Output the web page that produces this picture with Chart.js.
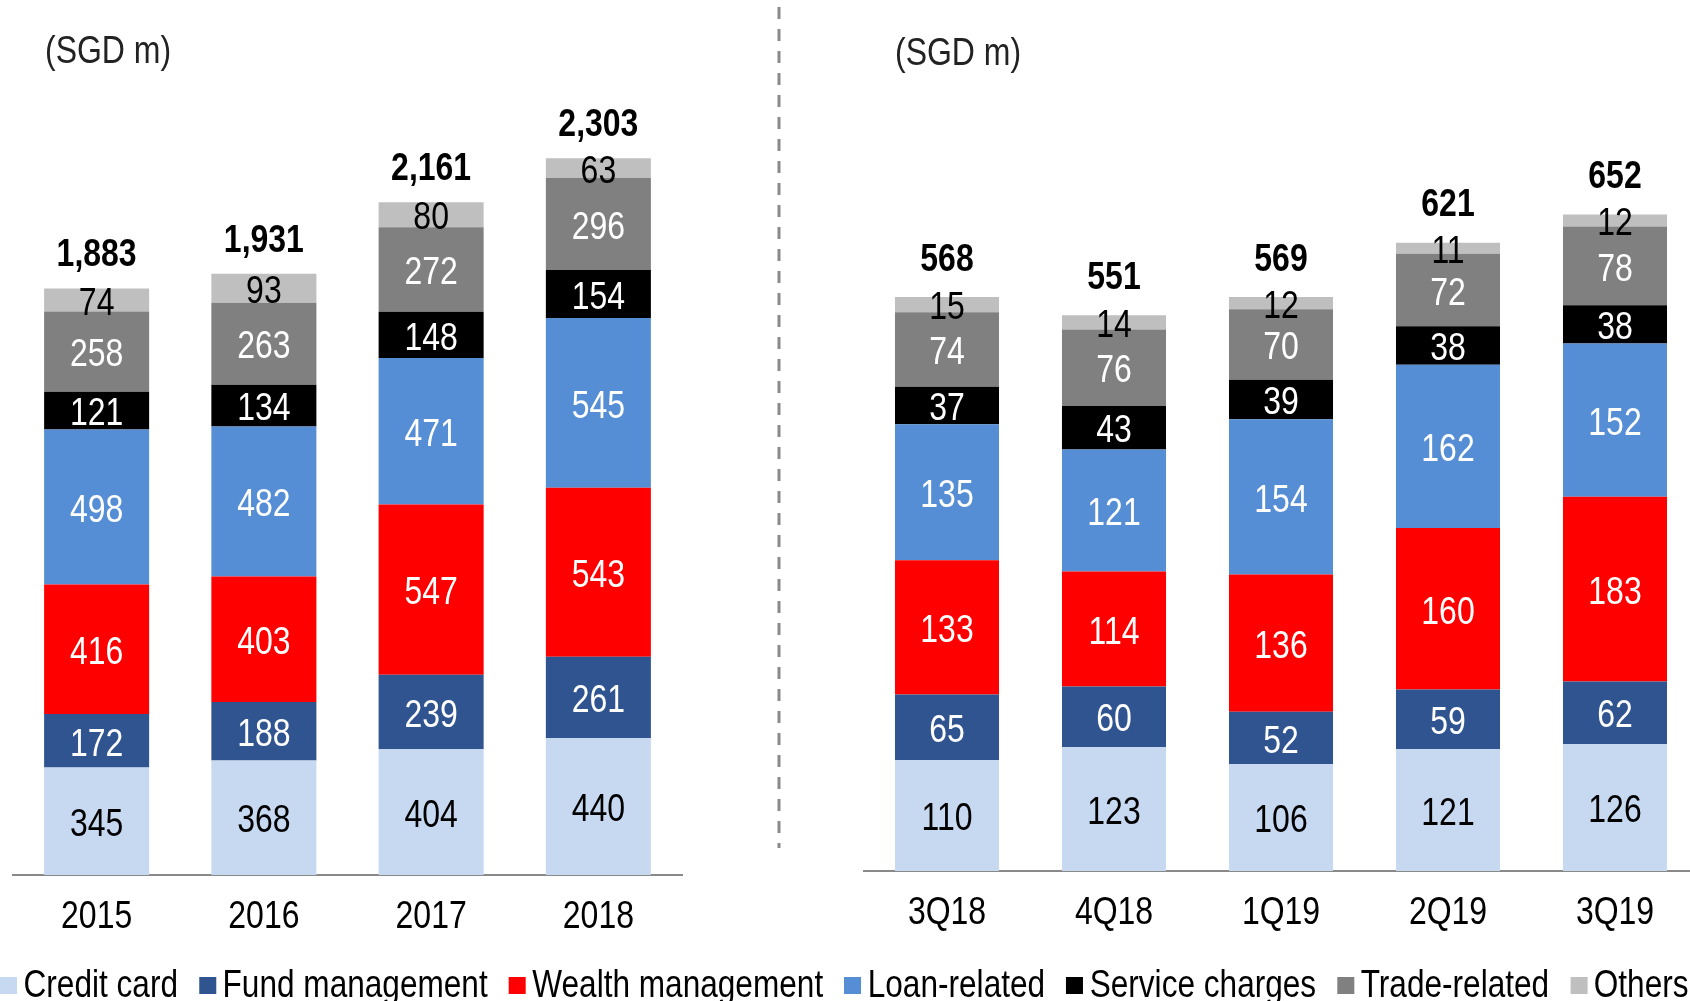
<!DOCTYPE html>
<html>
<head>
<meta charset="utf-8">
<script src="https://cdn.jsdelivr.net/npm/chart.js@4.4.1/dist/chart.umd.min.js"></script>
<style>
  html, body { margin: 0; padding: 0; background: #fff; overflow: hidden; }
  #wrap { position: relative; width: 1690px; height: 1001px; overflow: hidden; }
  canvas { position: absolute; top: 0; }
  #yearChart { left: 0; }
  #quarterChart { left: 780px; }
  .unit { position: absolute; font: 39px "Liberation Sans", Arial, sans-serif; color: #222; line-height: 1;
          transform: scaleX(0.82); transform-origin: left top; white-space: nowrap; }
  #divider { position: absolute; left: 0; top: 0; }
  #legend { position: absolute; left: 0; top: 960px; display: flex; align-items: center; height: 48px;
            font: 39px "Liberation Sans", Arial, sans-serif; color: #000; white-space: nowrap;
            transform: scaleX(0.81); transform-origin: left top; }
  #legend .item { display: flex; align-items: center; margin-right: 26px; }
  #legend .box { width: 21px; height: 17px; margin-right: 8px; margin-top: 2px; }
</style>
</head>
<body>
<div id="wrap">
  <canvas id="yearChart" width="720" height="960"></canvas>
  <canvas id="quarterChart" width="920" height="960"></canvas>
  <svg id="divider" width="1690" height="1001">
    <line x1="779" y1="7" x2="779" y2="848" stroke="#8a8a8a" stroke-width="3" stroke-dasharray="12 10"/>
  </svg>
  <div class="unit" style="left:45px; top:30px;">(SGD m)</div>
  <div class="unit" style="left:895px; top:32px;">(SGD m)</div>
  <div id="legend"></div>
</div>
<script>
// fee income breakdown, annual
const years = ['2015', '2016', '2017', '2018'];
const creditCardYear = [345, 368, 404, 440];
const fundMgmtYear = [172, 188, 239, 261];
const wealthMgmtYear = [416, 403, 547, 543];
const loanYear = [498, 482, 471, 545];
const serviceYear = [121, 134, 148, 154];
const tradeYear = [258, 263, 272, 296];
const othersYear = [74, 93, 80, 63];
const totalsYear = [1883, 1931, 2161, 2303];

// fee income breakdown, quarterly
const quarters = ['3Q18', '4Q18', '1Q19', '2Q19', '3Q19'];
const creditCardQtr = [110, 123, 106, 121, 126];
const fundMgmtQtr = [65, 60, 52, 59, 62];
const wealthMgmtQtr = [133, 114, 136, 160, 183];
const loanQtr = [135, 121, 154, 162, 152];
const serviceQtr = [37, 43, 39, 38, 38];
const tradeQtr = [74, 76, 70, 72, 78];
const othersQtr = [15, 14, 12, 11, 12];
const totalsQtr = [568, 551, 569, 621, 652];

const seriesNames = ['Credit card', 'Fund management', 'Wealth management', 'Loan-related', 'Service charges', 'Trade-related', 'Others'];
const seriesColors = ['#c6d9f1', '#2f5490', '#ff0000', '#558ed5', '#000000', '#808080', '#bfbfbf'];
const labelColors = ['#000', '#fff', '#fff', '#fff', '#fff', '#fff', '#000'];

const FONT = '"Liberation Sans", Arial, sans-serif';
const SQUEEZE = 0.82; // condensed look without a narrow face

function narrowText(ctx, text, x, y) {
  ctx.save();
  ctx.translate(x, y);
  ctx.scale(SQUEEZE, 1);
  ctx.fillText(text, 0, 0);
  ctx.restore();
}

// segment values inside each block, total above each stack, category names under the axis
const valueLabels = {
  id: 'valueLabels',
  afterDatasetsDraw(chart, args, opts) {
    const ctx = chart.ctx;
    ctx.save();
    ctx.textAlign = 'center';
    ctx.textBaseline = 'middle';
    ctx.font = '39px ' + FONT;
    chart.data.datasets.forEach((ds, i) => {
      const meta = chart.getDatasetMeta(i);
      ctx.fillStyle = labelColors[i];
      meta.data.forEach((bar, j) => {
        const p = bar.getProps(['x', 'y', 'base'], true);
        narrowText(ctx, ds.data[j], p.x, (p.y + p.base) / 2 + 4);
      });
    });
    const last = chart.getDatasetMeta(chart.data.datasets.length - 1);
    ctx.font = 'bold 39px ' + FONT;
    ctx.fillStyle = '#000';
    last.data.forEach((bar, j) => {
      const p = bar.getProps(['x', 'y'], true);
      narrowText(ctx, opts.totals[j].toLocaleString('en-US'), p.x, p.y - opts.totalGap);
    });

    const xs = chart.scales.x;
    ctx.font = '39px ' + FONT;
    ctx.fillStyle = '#000';
    chart.data.labels.forEach((lab, i) => {
      narrowText(ctx, lab, xs.getPixelForTick(i), xs.top + 42);
    });
    ctx.restore();
  }
};

function makeDatasets(cols, barPct) {
  return cols.map((data, i) => ({
    label: seriesNames[i],
    data: data,
    backgroundColor: seriesColors[i],
    borderWidth: 0,
    barPercentage: barPct,
    categoryPercentage: 1
  }));
}

function makeChart(id, labels, cols, totals, totalGap, yMax, padding, barPct) {
  return new Chart(document.getElementById(id), {
    type: 'bar',
    data: { labels: labels, datasets: makeDatasets(cols, barPct) },
    plugins: [valueLabels],
    options: {
      responsive: false,
      animation: false,
      layout: { padding: padding },
      plugins: {
        legend: { display: false },
        tooltip: { enabled: false },
        valueLabels: { totals: totals, totalGap: totalGap }
      },
      scales: {
        x: {
          stacked: true,
          grid: { display: false, drawTicks: false },
          border: { display: true, color: '#898989', width: 2 },
          ticks: { display: false },
          afterFit(scale) { scale.height = 80; }
        },
        y: { stacked: true, display: false, min: 0, max: yMax }
      }
    }
  });
}

makeChart('yearChart', years,
  [creditCardYear, fundMgmtYear, wealthMgmtYear, loanYear, serviceYear, tradeYear, othersYear],
  totalsYear, 33, 2650, { left: 13, right: 38, top: 50, bottom: 5 }, 0.628);

makeChart('quarterChart', quarters,
  [creditCardQtr, fundMgmtQtr, wealthMgmtQtr, loanQtr, serviceQtr, tradeQtr, othersQtr],
  totalsQtr, 37, 814, { left: 83.5, right: 1.5, top: 50, bottom: 9 }, 0.623);

// shared legend under both panels
const legend = document.getElementById('legend');
seriesNames.forEach((name, i) => {
  const item = document.createElement('div');
  item.className = 'item';
  const box = document.createElement('span');
  box.className = 'box';
  box.style.background = seriesColors[i];
  item.appendChild(box);
  item.appendChild(document.createTextNode(name));
  legend.appendChild(item);
});
</script>
</body>
</html>
